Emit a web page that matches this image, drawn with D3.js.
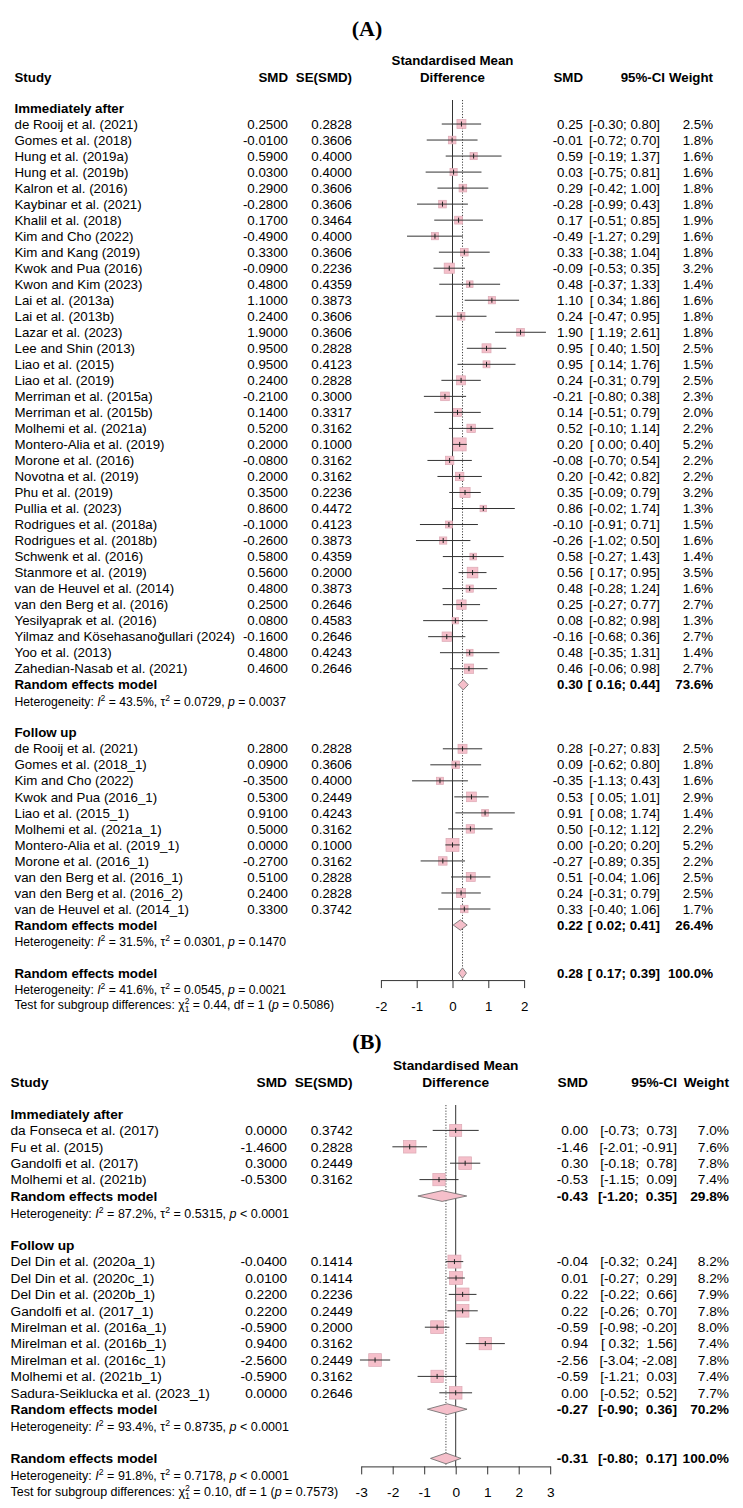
<!DOCTYPE html>
<html>
<head>
<meta charset="utf-8">
<script src="https://cdn.jsdelivr.net/npm/d3@7"></script>
<style>
body{margin:0;background:#fff;}
text{white-space:pre;}
</style>
</head>
<body>
<div id="chart-area"></div>
<script>
// ---- panel A : immediately after ----
var aImmStudy=["de Rooij et al. (2021)","Gomes et al. (2018)","Hung et al. (2019a)","Hung et al. (2019b)","Kalron et al. (2016)","Kaybinar et al. (2021)","Khalil et al. (2018)","Kim and Cho (2022)","Kim and Kang (2019)","Kwok and Pua (2016)","Kwon and Kim (2023)","Lai et al. (2013a)","Lai et al. (2013b)","Lazar et al. (2023)","Lee and Shin (2013)","Liao et al. (2015)","Liao et al. (2019)","Merriman et al. (2015a)","Merriman et al. (2015b)","Molhemi et al. (2021a)","Montero-Alia et al. (2019)","Morone et al. (2016)","Novotna et al. (2019)","Phu et al. (2019)","Pullia et al. (2023)","Rodrigues et al. (2018a)","Rodrigues et al. (2018b)","Schwenk et al. (2016)","Stanmore et al. (2019)","van de Heuvel et al. (2014)","van den Berg et al. (2016)","Yesilyaprak et al. (2016)","Yilmaz and Kösehasanoğullari (2024)","Yoo et al. (2013)","Zahedian-Nasab et al. (2021)"];
var aImmSmd=[0.25,-0.01,0.59,0.03,0.29,-0.28,0.17,-0.49,0.33,-0.09,0.48,1.10,0.24,1.90,0.95,0.95,0.24,-0.21,0.14,0.52,0.20,-0.08,0.20,0.35,0.86,-0.10,-0.26,0.58,0.56,0.48,0.25,0.08,-0.16,0.48,0.46];
var aImmSe=[0.2828,0.3606,0.4000,0.4000,0.3606,0.3606,0.3464,0.4000,0.3606,0.2236,0.4359,0.3873,0.3606,0.3606,0.2828,0.4123,0.2828,0.3000,0.3317,0.3162,0.1000,0.3162,0.3162,0.2236,0.4472,0.4123,0.3873,0.4359,0.2000,0.3873,0.2646,0.4583,0.2646,0.4243,0.2646];
var aImmLo=[-0.30,-0.72,-0.19,-0.75,-0.42,-0.99,-0.51,-1.27,-0.38,-0.53,-0.37,0.34,-0.47,1.19,0.40,0.14,-0.31,-0.80,-0.51,-0.10,0.00,-0.70,-0.42,-0.09,-0.02,-0.91,-1.02,-0.27,0.17,-0.28,-0.27,-0.82,-0.68,-0.35,-0.06];
var aImmHi=[0.80,0.70,1.37,0.81,1.00,0.43,0.85,0.29,1.04,0.35,1.33,1.86,0.95,2.61,1.50,1.76,0.79,0.38,0.79,1.14,0.40,0.54,0.82,0.79,1.74,0.71,0.50,1.43,0.95,1.24,0.77,0.98,0.36,1.31,0.98];
var aImmWeight=[2.5,1.8,1.6,1.6,1.8,1.8,1.9,1.6,1.8,3.2,1.4,1.6,1.8,1.8,2.5,1.5,2.5,2.3,2.0,2.2,5.2,2.2,2.2,3.2,1.3,1.5,1.6,1.4,3.5,1.6,2.7,1.3,2.7,1.4,2.7];

// ---- panel A : follow up ----
var aFupStudy=["de Rooij et al. (2021)","Gomes et al. (2018_1)","Kim and Cho (2022)","Kwok and Pua (2016_1)","Liao et al. (2015_1)","Molhemi et al. (2021a_1)","Montero-Alia et al. (2019_1)","Morone et al. (2016_1)","van den Berg et al. (2016_1)","van den Berg et al. (2016_2)","van de Heuvel et al. (2014_1)"];
var aFupSmd=[0.28,0.09,-0.35,0.53,0.91,0.50,0.00,-0.27,0.51,0.24,0.33];
var aFupSe=[0.2828,0.3606,0.4000,0.2449,0.4243,0.3162,0.1000,0.3162,0.2828,0.2828,0.3742];
var aFupLo=[-0.27,-0.62,-1.13,0.05,0.08,-0.12,-0.20,-0.89,-0.04,-0.31,-0.40];
var aFupHi=[0.83,0.80,0.43,1.01,1.74,1.12,0.20,0.35,1.06,0.79,1.06];
var aFupWeight=[2.5,1.8,1.6,2.9,1.4,2.2,5.2,2.2,2.5,2.5,1.7];

// random effects: subgroup 1, subgroup 2, overall
var aReSmd=[0.30,0.22,0.28];
var aReLo=[0.16,0.02,0.17];
var aReHi=[0.44,0.41,0.39];
var aReWeight=[73.6,26.4,100.0];
var aHetI2=[43.5,31.5,41.6];
var aHetTau2=[0.0729,0.0301,0.0545];
var aHetP=["= 0.0037","= 0.1470","= 0.0021"];
var aTestChi2=0.44, aTestP=0.5086;
var aTicks=[-2,-1,0,1,2];

// ---- panel B : immediately after ----
var bImmStudy=["da Fonseca et al. (2017)","Fu et al. (2015)","Gandolfi et al. (2017)","Molhemi et al. (2021b)"];
var bImmSmd=[0.00,-1.46,0.30,-0.53];
var bImmSe=[0.3742,0.2828,0.2449,0.3162];
var bImmLo=[-0.73,-2.01,-0.18,-1.15];
var bImmHi=[0.73,-0.91,0.78,0.09];
var bImmWeight=[7.0,7.6,7.8,7.4];

// ---- panel B : follow up ----
var bFupStudy=["Del Din et al. (2020a_1)","Del Din et al. (2020c_1)","Del Din et al. (2020b_1)","Gandolfi et al. (2017_1)","Mirelman et al. (2016a_1)","Mirelman et al. (2016b_1)","Mirelman et al. (2016c_1)","Molhemi et al. (2021b_1)","Sadura-Seiklucka et al. (2023_1)"];
var bFupSmd=[-0.04,0.01,0.22,0.22,-0.59,0.94,-2.56,-0.59,0.00];
var bFupSe=[0.1414,0.1414,0.2236,0.2449,0.2000,0.3162,0.2449,0.3162,0.2646];
var bFupLo=[-0.32,-0.27,-0.22,-0.26,-0.98,0.32,-3.04,-1.21,-0.52];
var bFupHi=[0.24,0.29,0.66,0.70,-0.20,1.56,-2.08,0.03,0.52];
var bFupWeight=[8.2,8.2,7.9,7.8,8.0,7.4,7.8,7.4,7.7];

var bReSmd=[-0.43,-0.27,-0.31];
var bReLo=[-1.20,-0.90,-0.80];
var bReHi=[0.35,0.36,0.17];
var bReWeight=[29.8,70.2,100.0];
var bHetI2=[87.2,93.4,91.8];
var bHetTau2=[0.5315,0.8735,0.7178];
var bHetP=["< 0.0001","< 0.0001","< 0.0001"];
var bTestChi2=0.10, bTestP=0.7573;
var bTicks=[-3,-2,-1,0,1,2,3];

var groupLabels=["Immediately after","Follow up"];

var svg=d3.select("#chart-area").append("svg")
    .attr("width",743)
    .attr("height",1508)
    .attr("font-family","'Liberation Sans', Arial, sans-serif");

svg.append("rect").attr("width",743).attr("height",1508).attr("fill","#fff");

function txt(g,x,y,s,anchor,bold,size){
    return g.append("text")
        .attr("x",x)
        .attr("y",y)
        .attr("dy","0.35em")
        .attr("text-anchor",anchor||"start")
        .attr("font-weight",bold?"bold":null)
        .attr("font-size",size)
        .attr("fill","#000")
        .text(s);
}

function fmtCI(lo,hi,padLo,padHi){
    var a=(lo<0||!padLo?"":" ")+lo.toFixed(2);
    var b=(hi<0||!padHi?"":" ")+hi.toFixed(2);
    return "["+a+"; "+b+"]";
}

function drawPanel(p){
    var g=svg.append("g");
    var t0=p.ticks[0], t1=p.ticks[p.ticks.length-1];
    var x=d3.scaleLinear()
        .domain([t0,t1])
        .range([p.zero+t0*p.unit, p.zero+t1*p.unit]);
    var y=function(i){return p.row0+i*p.rowH;};

    var allW=[], allLo=[], allHi=[];
    p.groups.forEach(function(gr){allW=allW.concat(gr.w);allLo=allLo.concat(gr.lo);allHi=allHi.concat(gr.hi);});
    allLo=allLo.concat(p.re.lo); allHi=allHi.concat(p.re.hi);
    var padLo=d3.min(allLo)<0, padHi=d3.min(allHi)<0;
    var side=d3.scaleSqrt().domain([0,d3.max(allW)]).range([0,p.sqMax]);

    // build row list
    var rows=[], r=0;
    p.groups.forEach(function(gr,k){
        rows.push({type:"group",i:r++,label:groupLabels[k]});
        gr.study.forEach(function(s,j){
            rows.push({type:"study",i:r++,name:s,smd:gr.smd[j],se:gr.se[j],lo:gr.lo[j],hi:gr.hi[j],w:gr.w[j]});
        });
        rows.push({type:"re",i:r++,k:k});
        rows.push({type:"het",i:r++,k:k});
        r++;
    });
    var overallRow=r;
    rows.push({type:"re",i:r++,k:p.groups.length});
    rows.push({type:"het",i:r++,k:p.groups.length});
    rows.push({type:"test",i:r++});

    var axisY=y(overallRow)+p.axisOff;
    var lineTop=p.row0-p.lineTopOff;

    // title
    g.append("text")
        .attr("x",p.titleX)
        .attr("y",p.titleY)
        .attr("dy","0.35em")
        .attr("text-anchor","middle")
        .attr("font-family","'Liberation Serif', 'Times New Roman', serif")
        .attr("font-weight","bold")
        .attr("font-size",22)
        .text(p.title);

    // header
    var hy=p.row0-p.headOff;
    txt(g,p.left,hy,"Study","start",true,p.fs);
    txt(g,p.smdRight,hy,"SMD","end",true,p.fs);
    txt(g,p.seRight,hy,"SE(SMD)","end",true,p.fs);
    txt(g,x(0),hy-p.rowH*1.05,"Standardised Mean","middle",true,p.fs);
    txt(g,x(0),hy,"Difference","middle",true,p.fs);
    txt(g,p.rSmdRight,hy,"SMD","end",true,p.fs);
    txt(g,p.ciHeadRight,hy,"95%-CI","end",true,p.fs);
    txt(g,p.wRight,hy,"Weight","end",true,p.fs);

    // reference lines
    g.append("line")
        .attr("x1",x(0)).attr("x2",x(0))
        .attr("y1",lineTop).attr("y2",axisY)
        .attr("stroke","#333").attr("stroke-width",1);
    g.append("line")
        .attr("x1",x(p.re.smd[p.groups.length])).attr("x2",x(p.re.smd[p.groups.length]))
        .attr("y1",lineTop).attr("y2",axisY)
        .attr("stroke","#444").attr("stroke-width",1)
        .style("stroke-dasharray","1.2,1.6");

    rows.forEach(function(d){
        var yy=y(d.i);
        if(d.type=="group"){
            txt(g,p.left,yy,d.label,"start",true,p.fs);
        }
        else if(d.type=="study"){
            txt(g,p.left,yy,d.name,"start",false,p.fs);
            txt(g,p.smdRight,yy,d.smd.toFixed(4),"end",false,p.fs);
            txt(g,p.seRight,yy,d.se.toFixed(4),"end",false,p.fs);
            txt(g,p.rSmdRight,yy,d.smd.toFixed(2),"end",false,p.fs);
            txt(g,p.ciRight,yy,fmtCI(d.lo,d.hi,padLo,padHi),"end",false,p.fs);
            txt(g,p.wRight,yy,d.w.toFixed(1)+"%","end",false,p.fs);
            var s=side(d.w);
            g.append("rect")
                .attr("x",x(d.smd)-s/2)
                .attr("y",yy-s/2)
                .attr("width",s)
                .attr("height",s)
                .attr("fill","#f5bfca")
                .attr("stroke","#dca9b4")
                .attr("stroke-width",0.7);
            g.append("line")
                .attr("x1",x(d.lo)).attr("x2",x(d.hi))
                .attr("y1",yy).attr("y2",yy)
                .attr("stroke","#333").attr("stroke-width",1);
            g.append("line")
                .attr("x1",x(d.smd)).attr("x2",x(d.smd))
                .attr("y1",yy-2.5).attr("y2",yy+2.5)
                .attr("stroke","#222").attr("stroke-width",1);
        }
        else if(d.type=="re"){
            var k=d.k;
            txt(g,p.left,yy,"Random effects model","start",true,p.fs);
            txt(g,p.rSmdRight,yy,p.re.smd[k].toFixed(2),"end",true,p.fs);
            txt(g,p.ciRight,yy,fmtCI(p.re.lo[k],p.re.hi[k],padLo,padHi),"end",true,p.fs);
            txt(g,p.wRight,yy,p.re.w[k].toFixed(1)+"%","end",true,p.fs);
            var pts=[[x(p.re.lo[k]),yy],[x(p.re.smd[k]),yy-p.dh],[x(p.re.hi[k]),yy],[x(p.re.smd[k]),yy+p.dh]];
            g.append("path")
                .attr("d",d3.line()(pts)+"Z")
                .attr("fill","#f5bfca")
                .attr("stroke","#666")
                .attr("stroke-width",0.8);
        }
        else if(d.type=="het"){
            var h=txt(g,p.left,yy+1,"","start",false,p.hetFs);
            var sup=p.hetFs*0.7;
            h.append("tspan").text("Heterogeneity: ");
            h.append("tspan").attr("font-style","italic").text("I");
            h.append("tspan").attr("font-size",sup).attr("dy",-5).text("2");
            h.append("tspan").attr("dy",5).text(" = "+p.het.i2[d.k].toFixed(1)+"%, ");
            h.append("tspan").text("τ");
            h.append("tspan").attr("font-size",sup).attr("dy",-5).text("2");
            h.append("tspan").attr("dy",5).text(" = "+p.het.tau2[d.k].toFixed(4)+", ");
            h.append("tspan").attr("font-style","italic").text("p");
            h.append("tspan").text(" "+p.het.p[d.k]);
        }
        else if(d.type=="test"){
            var tt=txt(g,p.left,yy,"","start",false,p.hetFs);
            var sz=p.hetFs*0.7;
            tt.append("tspan").text("Test for subgroup differences: ");
            tt.append("tspan").text("χ");
            tt.append("tspan").attr("font-size",sz).attr("dy",-5).text("2");
            tt.append("tspan").attr("font-size",sz).attr("dx",-sz*0.556).attr("dy",8).text("1");
            tt.append("tspan").attr("dy",-3).text(" = "+p.test.chi2.toFixed(2)+", df = 1 (");
            tt.append("tspan").attr("font-style","italic").text("p");
            tt.append("tspan").text(" = "+p.test.p.toFixed(4)+")");
        }
    });

    // x axis
    var xAxisCall=d3.axisBottom(x)
        .tickValues(p.ticks)
        .tickSize(8)
        .tickSizeOuter(0)
        .tickPadding(13)
        .tickFormat(function(d){return String(d);});
    var ag=g.append("g")
        .attr("transform","translate(0,"+axisY+")")
        .call(xAxisCall);
    ag.attr("font-family",null).attr("font-size",p.fs);
    ag.selectAll("line").attr("stroke","#333");
    ag.select(".domain").attr("stroke","#333");
    ag.selectAll("text").attr("fill","#000");
}

drawPanel({
    title:"(A)", titleX:367, titleY:28,
    groups:[
        {study:aImmStudy,smd:aImmSmd,se:aImmSe,lo:aImmLo,hi:aImmHi,w:aImmWeight},
        {study:aFupStudy,smd:aFupSmd,se:aFupSe,lo:aFupLo,hi:aFupHi,w:aFupWeight}
    ],
    re:{smd:aReSmd,lo:aReLo,hi:aReHi,w:aReWeight},
    het:{i2:aHetI2,tau2:aHetTau2,p:aHetP},
    test:{chi2:aTestChi2,p:aTestP},
    ticks:aTicks,
    left:14.5, smdRight:288, seRight:352, zero:452.5, unit:35.8,
    rSmdRight:583, ciRight:660, ciHeadRight:665, wRight:713,
    fs:13.3, hetFs:12.2, row0:108, rowH:16.02, headOff:31, lineTopOff:8,
    axisOff:7, sqMax:13, dh:5.2
});

drawPanel({
    title:"(B)", titleX:367, titleY:1041,
    groups:[
        {study:bImmStudy,smd:bImmSmd,se:bImmSe,lo:bImmLo,hi:bImmHi,w:bImmWeight},
        {study:bFupStudy,smd:bFupSmd,se:bFupSe,lo:bFupLo,hi:bFupHi,w:bFupWeight}
    ],
    re:{smd:bReSmd,lo:bReLo,hi:bReHi,w:bReWeight},
    het:{i2:bHetI2,tau2:bHetTau2,p:bHetP},
    test:{chi2:bTestChi2,p:bTestP},
    ticks:bTicks,
    left:10.5, smdRight:287, seRight:352.5, zero:455.7, unit:31.5,
    rSmdRight:588, ciRight:677, ciHeadRight:677, wRight:729,
    fs:13.7, hetFs:12.5, row0:1114, rowH:16.4, headOff:31.5, lineTopOff:9,
    axisOff:8, sqMax:13, dh:5.4
});
</script>
</body>
</html>
